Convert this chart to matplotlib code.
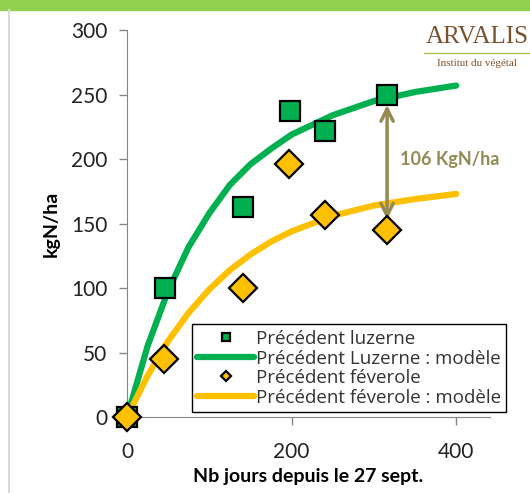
import numpy as np
import matplotlib.pyplot as plt
from matplotlib.lines import Line2D
from matplotlib.patches import Rectangle

plt.rcParams['font.family'] = ['Lato', 'DejaVu Sans']

# Observed data (days since 27 Sept, kgN/ha)
jours_luz   = [0, 46, 141, 198, 241, 316]
n_luz       = [0, 100, 163, 237, 222, 250]
jours_fev   = [0, 45, 141, 197, 240, 316]
n_fev       = [0, 45, 100, 196, 157, 145]

# Model curves
jours_mod   = [0, 25, 50, 75, 100, 125, 150, 175, 200, 250, 300, 350, 400]
mod_luz     = [0, 55, 98, 132, 158, 180, 196, 208, 219, 234, 245, 252, 257]
mod_fev     = [0, 32, 59, 81, 99, 114, 126, 136, 144, 156, 164, 169, 173]

ecart_x     = 316
ecart_label = '106 KgN/ha'

green  = '#00B050'
yellow = '#FFC000'
khaki  = '#948A54'

fig = plt.figure(figsize=(5.3, 4.93), dpi=100)
ax = fig.add_axes([0.2396, 0.154, 0.6849, 0.785])

ax.plot(jours_luz, n_luz, 's', color=green, markeredgecolor='black',
        markeredgewidth=1.6, markersize=15, clip_on=False, zorder=5,
        label='Précédent luzerne')
ax.plot(jours_mod, mod_luz, '-', color=green, lw=4.5, zorder=3,
        solid_capstyle='round', label='Précédent Luzerne : modèle')
ax.plot(jours_fev, n_fev, 'D', color=yellow, markeredgecolor='black',
        markeredgewidth=1.6, markersize=14, clip_on=False, zorder=6,
        label='Précédent féverole')
ax.plot(jours_mod, mod_fev, '-', color=yellow, lw=4.5, zorder=3,
        solid_capstyle='round', label='Précédent féverole : modèle')

# difference arrow
ax.annotate('', xy=(ecart_x, n_luz[-1] - 6), xytext=(ecart_x, n_fev[-1] + 6),
            arrowprops=dict(arrowstyle='<->', color=khaki, lw=2.5,
                            mutation_scale=22), zorder=4)
ax.text(332, 200, ecart_label, color=khaki, fontsize=13, fontweight='bold',
        va='center', ha='left')

ax.set_xlim(0, 441)
ax.set_ylim(0, 300)
ax.set_xticks([0, 200, 400])
ax.set_yticks(range(0, 301, 50))
for s in ['top', 'right']:
    ax.spines[s].set_visible(False)
for s in ['left', 'bottom']:
    ax.spines[s].set_color('#868686')
ax.tick_params(colors='#868686', labelcolor='#222222', labelsize=15,
               length=6, width=1)
ax.tick_params(axis='y', pad=8)
ax.tick_params(axis='x', pad=12)
ax.set_xlabel('Nb jours depuis le 27 sept.', fontsize=14, fontweight='bold',
              labelpad=4)
ax.set_ylabel('kgN/ha', fontsize=14, fontweight='bold', labelpad=8)

leg = ax.legend(loc='lower left', bbox_to_anchor=(0.362, 0.164),
                bbox_transform=fig.transFigure, borderaxespad=0,
                prop={'family': 'Open Sans', 'size': 13.5},
                markerscale=0.38, handlelength=3.0,
                handletextpad=0.1, labelspacing=0.08, fancybox=False,
                edgecolor='black', framealpha=1, borderpad=0.3)
leg.get_frame().set_linewidth(1)
for t in leg.get_texts():
    t.set_color('#333333')

# frame decorations
fig.add_artist(Rectangle((0, 1 - 10 / 493), 1, 10 / 493, color='#92D050',
                         transform=fig.transFigure))
fig.add_artist(Line2D([9 / 530, 9 / 530], [0, 1 - 10 / 493],
                      color='#D9D9D9', lw=1.5, transform=fig.transFigure))

# logo
fig.text(0.9, 0.925, 'ARVALIS', family='Liberation Serif', fontsize=18,
         color='#7B5230', ha='center', va='center')
fig.add_artist(Line2D([0.8, 1.0], [0.893, 0.893], color='#A8C84A', lw=1,
                      transform=fig.transFigure))
fig.text(0.9, 0.872, 'Institut du végétal', family='Liberation Serif',
         fontsize=8, color='#7B5230', ha='center', va='center')

fig.savefig('out.png', dpi=100)
